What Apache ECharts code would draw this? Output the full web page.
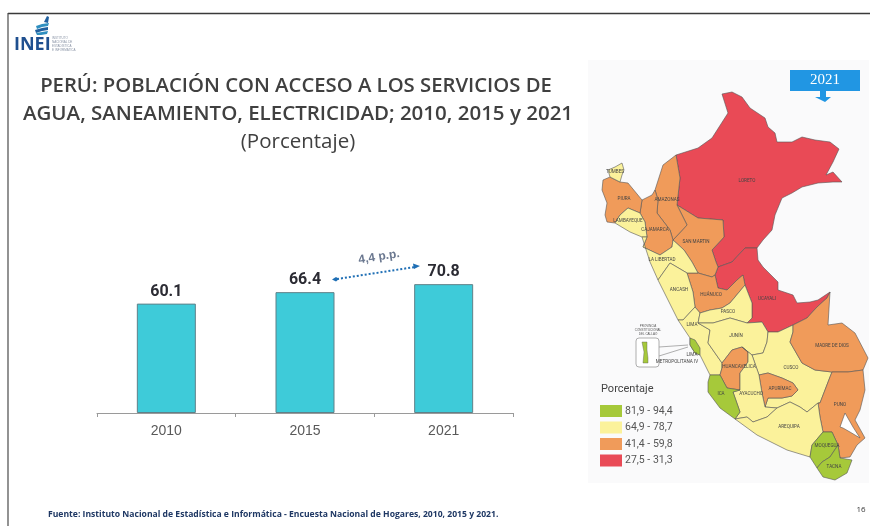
<!DOCTYPE html>
<html><head><meta charset="utf-8">
<style>html,body{margin:0;padding:0;background:#fff}#c{width:870px;height:526px}</style>
<script src="https://cdn.jsdelivr.net/npm/echarts@6/dist/echarts.min.js"></script>
</head><body><div id="c"></div>
<script>
// ---- data ----
const years = ['2010', '2015', '2021'];
const accessValues = [60.1, 66.4, 70.8];
const classLabels = ['81,9 - 94,4', '64,9 - 78,7', '41,4 - 59,8', '27,5 - 31,3'];
const classBounds = [[81.9, 94.4], [64.9, 78.7], [41.4, 59.8], [27.5, 31.3]];
const classColors = ['#a6c93a', '#fbf29b', '#f09b5a', '#e94a56'];
const regionsClass0 = ['ICA', 'MOQUEGUA', 'TACNA', 'LIMA METROPOLITANA'];
const regionsClass1 = ['TUMBES', 'LAMBAYEQUE', 'LA LIBERTAD', 'ANCASH', 'LIMA', 'PASCO', 'JUNÍN', 'CUSCO', 'AYACUCHO', 'AREQUIPA'];
const regionsClass2 = ['PIURA', 'AMAZONAS', 'CAJAMARCA', 'SAN MARTIN', 'HUÁNUCO', 'HUANCAVELICA', 'APURÍMAC', 'MADRE DE DIOS', 'PUNO'];
const regionsClass3 = ['LORETO', 'UCAYALI'];
const classValues = [88, 72, 50, 29];

// ---- map geometry (drawn by the library's map series) ----
const shapes = {
 'LORETO':{c:[747,181],p:[722,94,732,92,742,97,750,108,765,118,768,127,775,133,777,142,792,142,802,137,815,140,830,142,839,149,833,162,826,175,833,172,842,182,833,182,818,183,802,187,792,193,782,198,775,215,772,230,763,240,757,248,745,248,732,262,718,267,716,262,712,250,724,237,723,220,698,218,677,205,680,178,676,155,698,148,712,138,728,113]},
 'UCAYALI':{c:[767,299],p:[718,267,732,262,745,248,757,248,758,260,763,267,778,282,778,290,793,295,797,303,810,302,818,300,830,292,827,298,817,307,807,318,793,325,778,332,768,332,762,322,747,323,752,318,752,303,745,285,743,275,737,280,727,290,718,288,715,275]},
 'SAN MARTIN':{c:[696,242],p:[677,205,698,218,723,220,724,237,712,250,716,262,718,267,715,275,712,277,698,273,692,262,684,250,673,240,687,225]},
 'HUÁNUCO':{c:[711,295],p:[687,273,698,273,712,277,715,275,718,288,727,290,737,280,743,275,745,285,730,303,722,308,710,310,700,313,695,307,693,292]},
 'AMAZONAS':{c:[667,200],p:[676,155,680,178,677,205,687,225,673,240,670,230,657,213,658,200,655,190,663,165]},
 'CAJAMARCA':{c:[655,230],p:[655,190,658,200,657,213,670,230,673,240,672,247,660,255,643,247,647,237,645,222,640,213,642,200,652,195]},
 'PIURA':{c:[624,199],p:[610,177,620,182,628,183,642,200,640,213,628,208,620,215,615,223,607,222,605,215,607,203,602,190,603,180]},
 'TUMBES':{c:[615,172],p:[610,177,608,170,615,167,622,163,624,170,622,175,620,182]},
 'LAMBAYEQUE':{c:[628,221],p:[615,223,620,215,628,208,640,213,645,222,647,237,642,237,630,232]},
 'LA LIBERTAD':{c:[662,260],p:[642,237,647,237,643,247,660,255,672,247,673,240,684,250,692,262,698,273,687,273,670,263,658,280,650,262]},
 'ANCASH':{c:[679,290],p:[658,280,670,263,687,273,693,292,695,307,683,320,678,320,668,300]},
 'LIMA':{c:[692,325],p:[678,320,683,320,695,307,700,313,698,323,710,330,708,343,722,363,722,368,720,375,710,375,700,355,695,353,690,345,690,338]},
 'PASCO':{c:[728,312],p:[700,313,710,310,722,308,730,303,745,285,752,303,752,318,747,323,730,318,713,323,698,323]},
 'JUNÍN':{c:[736,336],p:[698,323,713,323,730,318,747,323,762,322,768,332,767,342,763,353,752,355,742,347,732,350,722,363,708,343,710,330]},
 'CUSCO':{c:[791,368],p:[768,332,778,332,793,325,793,332,790,342,802,363,815,370,832,372,830,377,820,403,818,403,807,412,800,407,790,402,777,408,765,407,768,398,782,398,792,396,798,390,793,383,782,378,768,373,759,375,752,355,763,353,767,342]},
 'MADRE DE DIOS':{c:[832,346],p:[830,292,828,325,842,323,855,333,868,358,863,370,848,372,832,372,815,370,802,363,790,342,793,332,793,325,807,318,817,307,827,298]},
 'PUNO':{c:[840,405],p:[832,372,848,372,863,370,865,390,860,410,855,420,865,438,857,445,850,457,840,458,838,445,832,432,823,432,820,417,818,403,820,403,830,377]},
 'LAGO':{c:null,p:[845,413,853,427,860,438,850,432,843,428,840,427]},
 'APURÍMAC':{c:[780,389],p:[759,375,768,373,782,378,793,383,798,390,792,396,782,398,768,398,765,407,762,393]},
 'HUANCAVELICA':{c:[739,367],p:[722,368,722,363,732,350,742,347,748,352,748,362,740,373,740,390,727,388,720,375]},
 'AYACUCHO':{c:[751,394],p:[740,373,748,362,748,352,742,347,752,355,759,375,762,393,765,407,777,408,767,417,753,422,747,417,735,419,740,412,733,392,740,390]},
 'ICA':{c:[721,394],p:[710,375,720,375,727,388,740,390,733,392,740,412,735,419,720,408,708,392,708,382]},
 'AREQUIPA':{c:[789,427],p:[735,419,747,417,753,422,767,417,777,408,790,402,800,407,807,412,818,403,820,417,823,432,812,445,810,457,787,450,757,435]},
 'MOQUEGUA':{c:[827,446],p:[823,432,832,432,838,445,830,457,822,462,817,468,810,457,812,445]},
 'TACNA':{c:[834,467],p:[838,445,840,458,852,460,847,473,835,480,823,477,817,468,822,462,830,457]},
 'LIMA METROPOLITANA':{c:null,p:[690,338,695,340,700,348,700,355,695,353,690,345]}
};
function ring(p){const r=[];for(let i=0;i<p.length;i+=2)r.push([p[i],-p[i+1]]);r.push([p[0],-p[1]]);return r;}
const geo={type:'FeatureCollection',features:Object.keys(shapes).map(n=>({type:'Feature',properties:Object.assign({name:n},shapes[n].c?{cp:[shapes[n].c[0],-shapes[n].c[1]]}:{}),geometry:{type:'Polygon',coordinates:[ring(shapes[n].p)]}}))};
echarts.registerMap('peru',geo);

const classRegions=[regionsClass0,regionsClass1,regionsClass2,regionsClass3];
const mapData=[];
classRegions.forEach((rs,i)=>rs.forEach(n=>mapData.push({name:n,value:classValues[i],label:{show:n!=='LIMA METROPOLITANA'}})));
mapData.push({name:'LAGO',value:null,label:{show:false},itemStyle:{areaColor:'#ffffff'}});

const chart=echarts.init(document.getElementById('c'),null,{renderer:'canvas'});
const sans='"Liberation Sans",Arial,sans-serif', narrow='Roboto,"Liberation Sans",sans-serif', os='"Open Sans",sans-serif';
function txt(x,y,t,fs,col,o){return {type:'text',x:x,y:y,z:o&&o.z||5,rotation:o&&o.rot||0,silent:true,style:Object.assign({text:t,fontSize:fs,fill:col,fontFamily:o&&o.ff||sans,fontWeight:o&&o.w||'normal',align:o&&o.a||'left',verticalAlign:'middle'},o&&o.s||{})};}
function poly(pts,fill,o){return {type:'polygon',silent:true,z:o&&o.z||6,shape:{points:pts},style:{fill:fill,stroke:o&&o.stroke||null,lineWidth:o&&o.lw||0}};}
function line(a,b,c,d,col,lw,dash,z){return {type:'line',silent:true,z:z||4,shape:{x1:a,y1:b,x2:c,y2:d},style:{stroke:col,lineWidth:lw,lineDash:dash||null}};}

const graphics=[
 line(8,13.5,870,13.5,'#3a3a3a',1.4),
 line(8,13,8,526,'#4a4a4a',1.2),
 {type:'rect',silent:true,z:-10,shape:{x:588,y:60,width:281,height:423},style:{fill:'#fafafb'}},
 txt(14,45,'INEI',18,'#1f4f8f',{ff:os,w:'bold'}),
 txt(52,38.5,'INSTITUTO',3,'#8a94a6'),txt(52,42.5,'NACIONAL DE',3,'#8a94a6'),txt(52,46.5,'ESTADÍSTICA',3,'#8a94a6'),txt(52,50.5,'E INFORMÁTICA',3,'#8a94a6'),
 poly([[44,22],[47,16],[49,17],[48,23]],'#1f5f9f'),
 poly([[36,26],[42,24],[49,23],[48,26],[42,27],[37,29]],'#2f8fc0'),
 poly([[35,30],[42,28],[48,27],[48,30],[42,31],[36,33]],'#1f5f9f'),
 poly([[36,33],[42,32],[48,31],[47,34],[41,35],[37,35]],'#2f8fc0'),
 txt(298,142,'(Porcentaje)',20.5,'#404040',{ff:os,a:'center'}),
 txt(48,515,'Fuente: Instituto Nacional de Estadística e Informática - Encuesta Nacional de Hogares, 2010, 2015 y 2021.',8.6,'#1f3864',{ff:os,w:'bold'}),
 txt(861,510,'16',8,'#333333',{ff:os,a:'center'}),
 line(337,279,415,267,'#1f6fb5',2,[2,2]),
 poly([[332,279.5],[336,277],[339,279],[336,281.5]],'#1f6fb5'),
 poly([[420,266],[413,263.5],[414,269]],'#1f6fb5'),
 txt(379,257,'4,4 p.p.',12,'#6b7890',{a:'center',w:'bold',rot:0.16}),
 {type:'rect',silent:true,z:5,shape:{x:790,y:70,width:70,height:21},style:{fill:'#2196e3'}},
 poly([[820,91],[826,91],[826,97],[831,97],[825,102],[815,97],[820,97]],'#2196e3'),
 txt(825,80.5,'2021',15,'#ffffff',{ff:'"Liberation Serif",serif',a:'center'}),
 txt(601,389,'Porcentaje',11,'#444444',{ff:narrow}),
 {type:'rect',silent:true,z:5,shape:{x:636,y:338,width:23,height:29,r:3},style:{fill:'#ffffff',stroke:'#9a9a9a',lineWidth:0.8}},
 poly([[642,342],[647,342],[647,350],[648,358],[648,363],[643,363],[644,352]],'#a6c93a',{stroke:'#555',lw:0.4}),
 line(659,347,688,345,'#9a9a9a',0.8),line(659,356,688,347,'#9a9a9a',0.8),
 txt(648,326,'PROVINCIA',3,'#555555',{a:'center'}),txt(648,330,'CONSTITUCIONAL',3,'#555555',{a:'center'}),txt(648,334,'DEL CALLAO',3,'#555555',{a:'center'}),
 txt(692,355,'LIMA',4.6,'#444444',{ff:narrow,a:'center',z:7}),
 txt(677,362,'METROPOLITANA IV',4.6,'#444444',{ff:narrow,a:'center',z:7})
];

chart.setOption({
 animation:false,
 backgroundColor:'#ffffff',
 title:[
  {text:'PERÚ: POBLACIÓN CON ACCESO A LOS SERVICIOS DE',left:291,top:68,textAlign:'center',textStyle:{fontFamily:os,fontSize:20.3,fontWeight:600,color:'#404040',lineHeight:26}},
  {text:'AGUA, SANEAMIENTO, ELECTRICIDAD; 2010, 2015 y 2021',left:293,top:96,textAlign:'center',textStyle:{fontFamily:os,fontSize:20.5,fontWeight:600,color:'#404040',lineHeight:26}}
 ],
 grid:{left:97,width:416,top:231,height:182},
 xAxis:{type:'category',data:years,axisLine:{lineStyle:{color:'#9a9a9a',width:1}},axisTick:{show:true,length:4,lineStyle:{color:'#9a9a9a'}},axisLabel:{color:'#595959',fontSize:14,fontFamily:sans,margin:11}},
 yAxis:{type:'value',min:0,max:100,show:false},
 visualMap:{type:'piecewise',seriesIndex:1,left:600,top:405,padding:0,orient:'vertical',itemWidth:22,itemHeight:12,itemGap:4.5,itemSymbol:'rect',align:'left',textGap:3,hoverLink:false,selectedMode:false,showLabel:true,
   textStyle:{color:'#555555',fontSize:10.5,fontFamily:narrow},
   pieces:classLabels.map((l,i)=>({min:classBounds[i][0],max:classBounds[i][1],label:l,color:classColors[i]}))},
 series:[
  {type:'bar',data:accessValues,barWidth:59,itemStyle:{color:'#3ecbd9',borderColor:'#5f8088',borderWidth:1},
   label:{show:true,position:'top',distance:4,formatter:p=>p.value.toFixed(1),fontFamily:narrow,fontWeight:'bold',fontSize:16,color:'#2b2b33'},silent:true},
  {type:'map',map:'peru',roam:false,silent:true,aspectScale:1,boundingCoords:[[590,-60],[870,-490]],left:590,top:60,width:280,height:430,
   itemStyle:{borderColor:'#555555',borderWidth:0.6},
   label:{show:true,fontSize:4.6,color:'#444444',fontFamily:narrow},
   labelLayout:{hideOverlap:false},
   data:mapData}
 ],
 graphic:graphics
});
</script></body></html>
